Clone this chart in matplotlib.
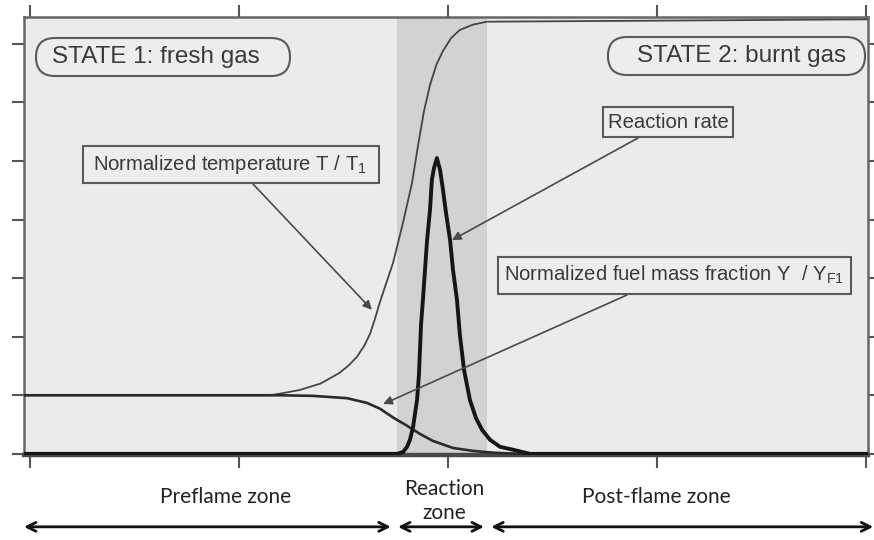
import matplotlib
matplotlib.use('Agg')
import matplotlib.pyplot as plt
from matplotlib.patches import FancyBboxPatch
from matplotlib.transforms import IdentityTransform

plt.rcParams['mathtext.fontset'] = 'custom'
plt.rcParams['mathtext.rm'] = 'Liberation Sans'
plt.rcParams['mathtext.it'] = 'Liberation Sans:italic'
plt.rcParams['mathtext.bf'] = 'Liberation Sans:bold'

# ---------------- data ----------------
temp_x = [-0.03, 1.15, 1.20, 1.29, 1.39, 1.48, 1.525, 1.565, 1.60, 1.627, 1.65, 1.675, 1.705,
          1.737, 1.785, 1.828, 1.856, 1.885, 1.914, 1.945, 1.976, 2.015, 2.057, 2.12, 2.187, 4.02]
temp_y = [1.0, 1.0, 1.03, 1.09, 1.20, 1.38, 1.51, 1.66, 1.85, 2.05, 2.30, 2.60, 2.92,
          3.26, 3.95, 4.63, 5.25, 5.85, 6.30, 6.65, 6.88, 7.10, 7.24, 7.33, 7.38, 7.42]

fuel_x = [-0.03, 1.20, 1.354, 1.517, 1.612, 1.675, 1.737, 1.804, 1.866, 1.928, 2.024,
          2.12, 2.215, 2.344, 4.02]
fuel_y = [1.0, 1.0, 0.99, 0.95, 0.87, 0.77, 0.62, 0.48, 0.34, 0.22, 0.10,
          0.05, 0.02, 0.0, 0.0]

rate_x = [-0.03, 1.70, 1.756, 1.785, 1.804, 1.818, 1.833, 1.842, 1.852, 1.861, 1.866, 1.871,
          1.880, 1.890, 1.900, 1.914, 1.923, 1.933, 1.947, 1.962, 1.976, 1.990, 2.010,
          2.024, 2.043, 2.057, 2.077, 2.105, 2.134, 2.163, 2.201, 2.249, 2.311, 2.392, 4.02]
rate_y = [0, 0, 0, 0.03, 0.12, 0.24, 0.46, 0.68, 0.92, 1.35, 1.78, 2.20,
          2.63, 3.14, 3.65, 4.17, 4.68, 4.88, 5.05, 4.85, 4.51, 4.13, 3.65,
          3.14, 2.63, 2.03, 1.43, 0.92, 0.61, 0.41, 0.24, 0.12, 0.07, 0.0, 0.0]

zone_edges = [1.756, 2.187]
zone_labels = ['Preflame zone', 'Reaction\nzone', 'Post-flame zone']
state_labels = ['STATE 1: fresh gas', 'STATE 2: burnt gas']
curve_labels = [r'Normalized temperature T / T$_{\mathrm{1}}$',
                'Reaction rate',
                r'Normalized fuel mass fraction Y  / Y$_{\mathrm{F1}}$']
x_ticks = [0, 1, 2, 3, 4]
y_ticks = [0, 1, 2, 3, 4, 5, 6, 7]

# ---------------- figure ----------------
W, H = 874, 540
fig = plt.figure(figsize=(W / 100, H / 100), dpi=100)
fig.patch.set_facecolor('white')
ax = fig.add_axes([24 / W, (H - 455) / H, 844 / W, 438 / H])
ax.set_xlim(-0.029, 4.01)
ax.set_ylim(-0.02, 7.46)
ax.set_facecolor('#ebebeb')

ax.axvspan(zone_edges[0], zone_edges[1], color='#d2d2d2', lw=0, zorder=0.5)
ax.plot(temp_x, temp_y, color='#454545', lw=1.3, zorder=3, solid_joinstyle='round')
ax.plot(fuel_x, fuel_y, color='#2b2b2b', lw=1.9, zorder=3, solid_joinstyle='round')
ax.plot(rate_x, rate_y, color='#161616', lw=2.8, zorder=4, solid_joinstyle='round')

ax.set_xticks(x_ticks)
ax.set_yticks(y_ticks)
ax.set_xticklabels([])
ax.set_yticklabels([])
ax.tick_params(which='both', direction='out', length=9, width=1.5, color='#555555',
               top=True, right=True, bottom=True, left=True)
for side in ['left', 'right', 'top']:
    ax.spines[side].set_color('#666666')
    ax.spines[side].set_linewidth(1.8)
ax.spines['bottom'].set_color('#4a4a4a')
ax.spines['bottom'].set_linewidth(3.2)

ident = IdentityTransform()


def box(x0, y0, x1, y1, rounded):
    h = y1 - y0
    style = f"round,pad=0,rounding_size={h / 2}" if rounded else "square,pad=0"
    p = FancyBboxPatch((x0, H - y1), x1 - x0, h, boxstyle=style, transform=ident,
                       facecolor='#ededed', edgecolor='#5a5a5a', lw=1.5, zorder=5)
    fig.add_artist(p)


def label(x, y, s, size):
    fig.text(x, H - y, s, transform=ident, ha='center', va='center', fontsize=size,
             color='#3a3a3a', family='Liberation Sans', zorder=6)


# state boxes
box(36, 38, 290, 76, True)
label(156, 57, state_labels[0], 17.5)
box(608, 37, 865, 75, True)
label(742, 56, state_labels[1], 17.5)

# curve label boxes
box(83, 146, 379, 183, False)
label(230, 164, curve_labels[0], 14.6)
box(603, 107, 733, 137, False)
label(668, 122, curve_labels[1], 14.6)
box(498, 257, 851, 294, False)
label(674, 275, curve_labels[2], 14.6)

arrow_kw = dict(arrowstyle='-|>', color='#4a4a4a', lw=1.2, mutation_scale=13,
                shrinkA=0, shrinkB=0)
ax.annotate('', xy=(1.636, 2.46), xycoords='data', xytext=(253, H - 184),
            textcoords='figure pixels', arrowprops=arrow_kw, zorder=6)
ax.annotate('', xy=(2.019, 3.65), xycoords='data', xytext=(638, H - 138),
            textcoords='figure pixels', arrowprops=arrow_kw, zorder=6)
ax.annotate('', xy=(1.69, 0.85), xycoords='data', xytext=(627, H - 295),
            textcoords='figure pixels', arrowprops=arrow_kw, zorder=6)

# zone labels and arrows under the axis
zone_font = dict(family='Lato', fontsize=15, color='#222222', ha='center', va='center')
ax.text((-0.029 + zone_edges[0]) / 2 + 0.07, -0.096, zone_labels[0],
        transform=ax.get_xaxis_transform(), clip_on=False, **zone_font)
ax.text((zone_edges[0] + zone_edges[1]) / 2 + 0.01, -0.105, zone_labels[1],
        transform=ax.get_xaxis_transform(), clip_on=False, linespacing=1.25, **zone_font)
ax.text((zone_edges[1] + 4.01) / 2 - 0.1, -0.096, zone_labels[2],
        transform=ax.get_xaxis_transform(), clip_on=False, **zone_font)

zarrow = dict(arrowstyle='<->', color='#111111', lw=2.0, mutation_scale=16,
              shrinkA=0, shrinkB=0)
spans = [(-0.029, zone_edges[0] - 0.03), (zone_edges[0] + 0.005, zone_edges[1] - 0.015),
         (zone_edges[1] + 0.02, 4.035)]
for a, b in spans:
    ax.annotate('', xy=(b, -0.164), xytext=(a, -0.164),
                xycoords=('data', 'axes fraction'), textcoords=('data', 'axes fraction'),
                arrowprops=zarrow, annotation_clip=False)

fig.savefig('out.png', dpi=100, facecolor='white')
